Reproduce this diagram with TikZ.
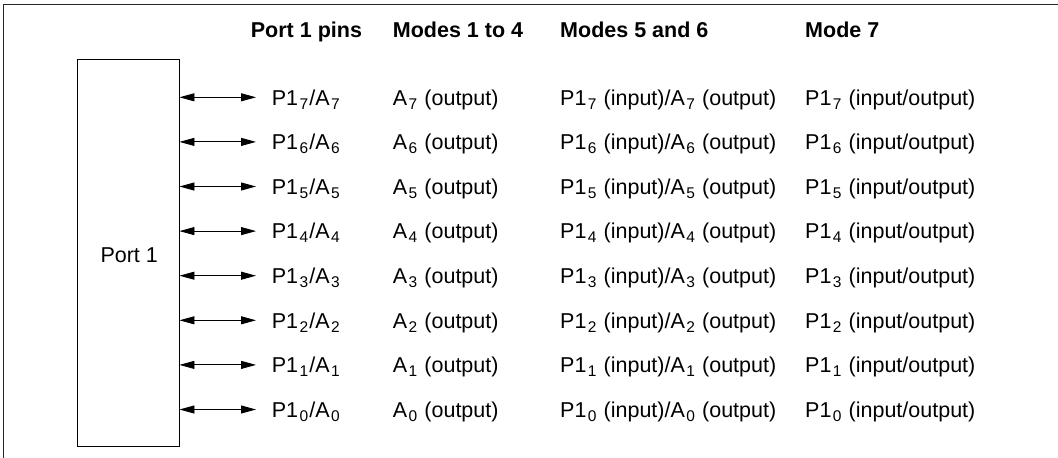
\documentclass[tikz,border=0pt]{standalone}
\usepackage{fontspec}
\setmainfont{Liberation Sans}
\usetikzlibrary{arrows.meta}
\newcommand{\sbs}[1]{\kern1.3pt\raisebox{-4pt}{\fontsize{15.5}{15.5}\selectfont #1}\kern1.3pt}
\tikzset{
  txt/.style={anchor=base west, inner sep=0pt, font=\fontsize{21.5}{24}\selectfont},
  hdr/.style={txt, font=\fontsize{21.5}{24}\selectfont\bfseries},
  portbox/.style={draw, line width=0.9pt, minimum width=101.7pt, minimum height=387.4pt, inner sep=0pt},
  pinarrow/.style={line width=0.9pt, {Triangle[length=15pt,width=8pt]}-{Triangle[length=15pt,width=8pt]}},
  frame/.style={line width=1pt, draw=black!85}
}
\begin{document}
\begin{tikzpicture}[x=1pt,y=-1pt]
\useasboundingbox (0,0) rectangle (1058,458);
\coordinate (ftl) at (3.8,4.6);
\coordinate (ftr) at (1058,4.6);
\coordinate (fbl) at (3.8,458);
\draw[frame] (ftr) -- (ftl) -- (fbl);
% headers
\node[hdr] (h1) at (250.7,37.7) {Port 1 pins};
\node[hdr] (h2) at (392.7,37.7) {Modes 1 to 4};
\node[hdr] (h3) at (560,37.7) {Modes 5 and 6};
\node[hdr] (h4) at (805,37.7) {Mode 7};
% port box
\node[portbox] (port) at (128.15,253) {};
\node[txt, anchor=base] (portlbl) at (129.2,262.7) {Port 1};
% rows
\foreach \i in {7,...,0} {
  \pgfmathsetmacro{\yb}{105+(7-\i)*44.6}
  \pgfmathsetmacro{\ya}{\yb-7.7}
  \node[txt] (pin\i) at (271.7,\yb) {P1\sbs{\i}/A\sbs{\i}};
  \node[txt] (ma\i) at (392.7,\yb) {A\sbs{\i}\ (output)};
  \node[txt] (mb\i) at (560,\yb) {P1\sbs{\i}\ (input)/A\sbs{\i}\ (output)};
  \node[txt] (mc\i) at (805,\yb) {P1\sbs{\i}\ (input/output)};
  \coordinate (tip\i) at (256,\ya);
  \draw[pinarrow] (port.east |- tip\i) -- (tip\i);
}
\end{tikzpicture}
\end{document}
